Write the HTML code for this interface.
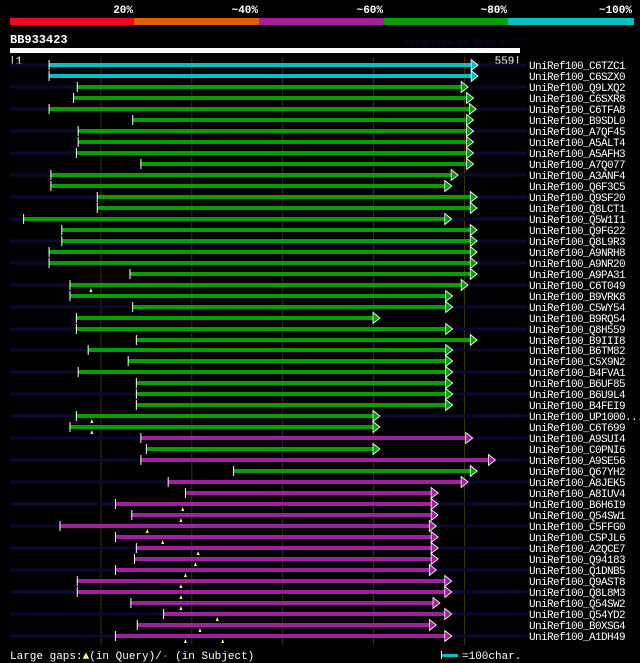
<!DOCTYPE html>
<html><head><meta charset="utf-8">
<style>
html,body{margin:0;padding:0;background:#000;}
svg{display:block;}
text{font-family:"Liberation Mono","DejaVu Sans Mono",monospace;}
</style></head>
<body>
<svg id="chart" width="640" height="663" viewBox="0 0 640 663" xmlns="http://www.w3.org/2000/svg">
  <rect width="640" height="663" fill="#000"/>
  <g>
    <rect x="10" y="18" width="124" height="7" fill="#ff0022"/>
    <rect x="134" y="18" width="125" height="7" fill="#e06000"/>
    <rect x="259" y="18" width="125" height="7" fill="#a020a0"/>
    <rect x="384" y="18" width="124" height="7" fill="#00a000"/>
    <rect x="508" y="18" width="126" height="7" fill="#00c0c8"/>
    <g font-size="11" font-weight="bold" fill="#fff" text-anchor="end">
      <text x="133" y="13">20%</text>
      <text x="258" y="13">~40%</text>
      <text x="383" y="13">~60%</text>
      <text x="507" y="13">~80%</text>
      <text x="632" y="13">~100%</text>
    </g>
  </g>
  <text x="10" y="43" font-size="12" font-weight="bold" fill="#fff">BB933423</text>
  <text x="404" y="45" font-size="9" fill="#0a0a30">AlignView.pm Beta rel.7</text>
  <rect x="10" y="48" width="510" height="5" fill="#fff"/>
  <text x="9" y="64" font-size="11" fill="#fff">|1</text>
  <text x="521" y="64" font-size="11" fill="#fff" text-anchor="end">559|</text>
  <g id="grid"></g>
  <g id="rows"></g>
  <g>
    <text x="10" y="659" font-size="11" fill="#fff">Large gaps:<tspan fill="#ffff80">▲</tspan>(in Query)/<tspan fill="#00c0c8">-</tspan> (in Subject)</text>
    <rect x="441" y="651" width="1" height="8" fill="#fff"/>
    <rect x="442" y="654" width="16" height="3" fill="#00c0c8"/>
    <text x="462" y="659" font-size="11" fill="#fff">=100char.</text>
  </g>
</svg>
<script>
const names = ["C6TZC1","C6SZX0","Q9LXQ2","C6SXR8","C6TFA8","B9SDL0","A7QF45","A5ALT4","A5AFH3","A7Q077","A3ANF4","Q6F3C5","Q9SF20","Q8LCT1","Q5W1I1","Q9FG22","Q8L9R3","A9NRH8","A9NR20","A9PA31","C6T049","B9VRK8","C5WY54","B9RQ54","Q8H559","B9III8","B6TM82","C5X9N2","B4FVA1","B6UF85","B6U9L4","B4FEI9","UP1000...","C6T699","A9SUI4","C0PNI6","A9SE56","Q67YH2","A8JEK5","A8IUV4","B6H6I9","Q54SW1","C5FFG0","C5PJL6","A2QCE7","Q94183","Q1DNB5","Q9AST8","Q8L8M3","Q54SW2","Q54YD2","B0XSG4","A1DH49"];
const starts = [43,43,74,70,43,135,75,75,73,144,45,45,96,96,15,57,57,43,43,132,66,66,135,73,73,139,86,130,75,139,139,139,73,66,144,150,144,246,174,193,116,134,55,116,139,137,116,74,74,133,169,140,116];
const ends = [515,515,504,510,513,510,510,510,510,510,493,486,514,514,486,514,514,514,514,514,504,487,487,407,487,514,487,487,487,487,487,487,407,407,509,407,534,514,504,471,471,471,469,471,471,471,469,486,486,473,486,469,486];
const identity = ["c","c","g","g","g","g","g","g","g","g","g","g","g","g","g","g","g","g","g","g","g","g","g","g","g","g","g","g","g","g","g","g","g","g","m","g","m","g","m","m","m","m","m","m","m","m","m","m","m","m","m","m","m"];
const queryGaps = [[],[],[],[],[],[],[],[],[],[],[],[],[],[],[],[],[],[],[],[],[89],[],[],[],[],[],[],[],[],[],[],[],[90],[90],[],[],[],[],[],[],[190],[188],[151],[168],[207],[204],[193],[188],[188],[188],[228],[209],[193,234]];
const gridTicks = [100,200,300,400,500];

const colors = {c:"#00c0c8", g:"#00a000", m:"#a020a0"};
const NS = "http://www.w3.org/2000/svg";
function xs(p){ return 10 + p*0.909; }
function ys(i){ return 65 + i*10.98; }
function mk(tag, attrs, parent){
  const e = document.createElementNS(NS, tag);
  for (const k in attrs) e.setAttribute(k, attrs[k]);
  parent.appendChild(e);
  return e;
}
const grid = document.getElementById('grid');
gridTicks.forEach(t => {
  const l = mk('line', {x1:xs(t), x2:xs(t), y1:57, y2:645, stroke:"#353500", "stroke-width":1}, grid);
  
  
});
const rows = document.getElementById('rows');
names.forEach((n, i) => {
  const y = Math.round(ys(i));
  const g = mk('g', {}, rows);
  
  
  if (i % 2 === 0) {
    const bg = mk('rect', {x:10, y:y-1.5, width:517, height:3, fill:"#0a0a30"}, g);
    
    
  }
  const x0 = xs(starts[i]), x1 = xs(ends[i]);
  const col = colors[identity[i]];
  const bar = mk('rect', {x:x0, y:y-2, width:x1-x0-6, height:4, fill:col}, g);
  
  
  const tick = mk('rect', {x:x0-0.5, y:y-5, width:1, height:10, fill:"#fff"}, g);
  
  
  const ar = mk('polygon', {points:`${x1-7},${y-5.5} ${x1},${y} ${x1-7},${y+5.5}`, fill:col, stroke:"#fff", "stroke-width":0.8}, g);
  
  
  queryGaps[i].forEach(q => {
    const gx = xs(q);
    const tri = mk('polygon', {points:`${gx-1.5},${y+7} ${gx},${y+3} ${gx+1.5},${y+7}`, fill:"#ffff80"}, g);
    
    
  });
  const t = mk('text', {x:529, y:y+4, "font-size":11, fill:"#fff", "letter-spacing":"-0.6"}, g);
  
  
  t.textContent = 'UniRef100_' + n;
});
</script>
</body></html>
